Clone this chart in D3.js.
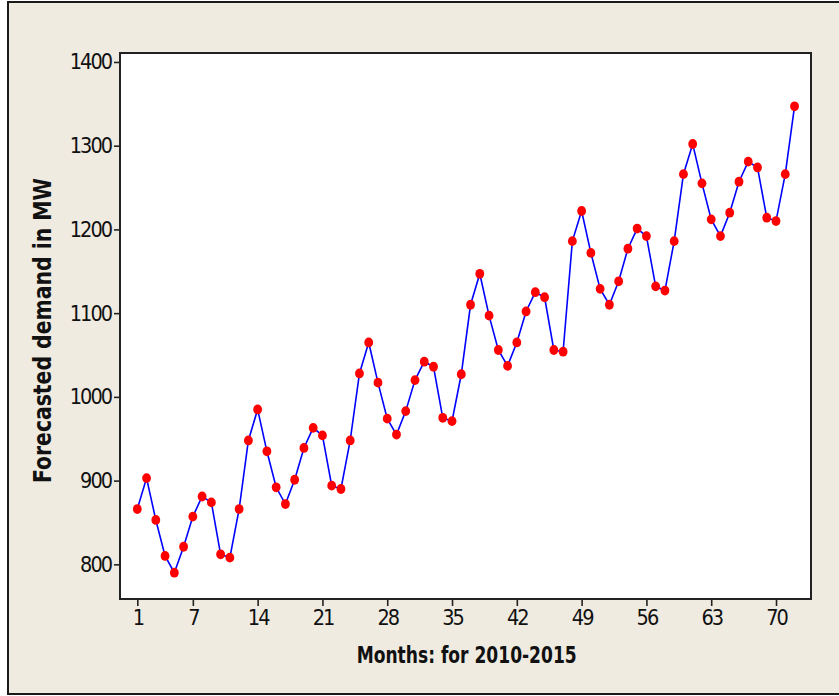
<!DOCTYPE html>
<html><head><meta charset="utf-8">
<script src="https://cdn.jsdelivr.net/npm/d3@7"></script>
<style>body{margin:0;background:#fff;} svg{display:block;}</style>
</head><body>
<svg id="c" width="839" height="696"></svg>
<script>
const months = d3.range(1, 73);
const demand = [866, 903, 853, 810, 790, 821, 857, 881, 874, 812, 808, 866,
  948, 985, 935, 892, 872, 901, 939, 963, 954, 894, 890, 948,
  1028, 1065, 1017, 974, 955, 983, 1020, 1042, 1036, 975, 971, 1027,
  1110, 1147, 1097, 1056, 1037, 1065, 1102, 1125, 1119, 1056, 1054, 1186,
  1222, 1172, 1129, 1110, 1138, 1177, 1201, 1192, 1132, 1127, 1186, 1266,
  1302, 1255, 1212, 1192, 1220, 1257, 1281, 1274, 1214, 1210, 1266, 1347];
const xTicks = [1, 7, 14, 21, 28, 35, 42, 49, 56, 63, 70];
const yTicks = [800, 900, 1000, 1100, 1200, 1300, 1400];
const xTitle = "Months: for 2010-2015";
const yTitle = "Forecasted demand in MW";

const svg = d3.select("#c");
const L = 120, R = 811, T = 53, B = 599;
const x = d3.scaleLinear().domain([-0.869, 73.78]).range([L, R]);
const y = d3.scaleLinear().domain([758.6, 1410.7]).range([B, T]);

svg.append("rect").attr("x", 8).attr("y", 2).attr("width", 845).attr("height", 692)
  .attr("fill", "#efebe1").attr("stroke", "#1a1a1a").attr("stroke-width", 2);
svg.append("rect").attr("x", L).attr("y", T).attr("width", R - L).attr("height", B - T)
  .attr("fill", "#fff").attr("stroke", "#222").attr("stroke-width", 2);

const font = "'DejaVu Sans Condensed','DejaVu Sans',sans-serif";

const xa = svg.append("g").attr("transform", `translate(0,${B})`)
  .call(d3.axisBottom(x).tickValues(xTicks).tickSize(7).tickPadding(4).tickFormat(d3.format("d")));
const ya = svg.append("g").attr("transform", `translate(${L},0)`)
  .call(d3.axisLeft(y).tickValues(yTicks).tickSize(6).tickPadding(3).tickFormat(d3.format("d")));
[xa, ya].forEach(a => {
  a.select(".domain").remove();
  a.selectAll(".tick line").attr("stroke", "#222").attr("stroke-width", 1.6);
  a.selectAll(".tick text").attr("fill", "#111").style("font-family", font)
    .style("font-size", "21.5px").style("letter-spacing", "-2px");
});

const line = d3.line().x((d, i) => x(months[i])).y(d => y(d));
svg.append("path").datum(demand).attr("d", line)
  .attr("fill", "none").attr("stroke", "#0000ff").attr("stroke-width", 1.6);
svg.append("g").selectAll("ellipse").data(demand).join("ellipse")
  .attr("cx", (d, i) => x(months[i])).attr("cy", d => y(d))
  .attr("rx", 4.4).attr("ry", 4.9).attr("fill", "#ff0000");

svg.append("text").text(xTitle).attr("x", 466.7).attr("y", 663)
  .attr("text-anchor", "middle").attr("textLength", 220).attr("lengthAdjust", "spacingAndGlyphs")
  .style("font-family", font).style("font-weight", "bold").style("font-size", "23px").attr("fill", "#111");
svg.append("text").text(yTitle).attr("transform", "translate(51,330.5) rotate(-90)")
  .attr("text-anchor", "middle").attr("textLength", 305).attr("lengthAdjust", "spacingAndGlyphs")
  .style("font-family", font).style("font-weight", "bold").style("font-size", "24px").attr("fill", "#111");
</script>
</body></html>
